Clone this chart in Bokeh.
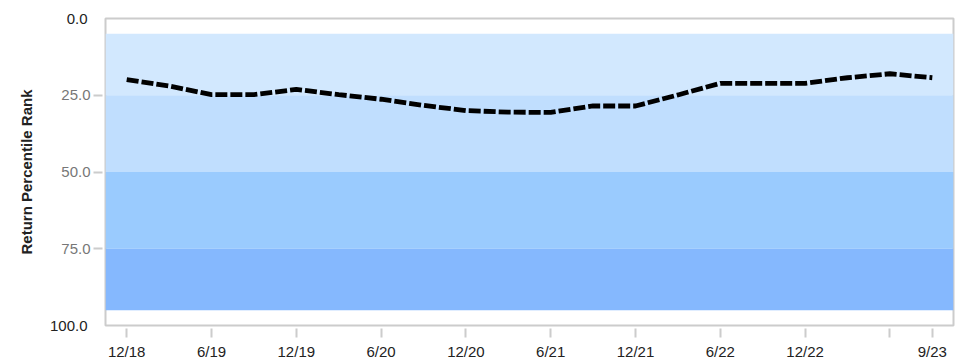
from bokeh.plotting import figure
from bokeh.models import (Range1d, FixedTicker, BoxAnnotation, LinearAxis,
                          NumeralTickFormatter)
from bokeh.embed import file_html
from bokeh.resources import INLINE

# ---- data -------------------------------------------------------------
quarters = ["12/18", "3/19", "6/19", "9/19", "12/19", "3/20", "6/20", "9/20",
            "12/20", "3/21", "6/21", "9/21", "12/21", "3/22", "6/22", "9/22",
            "12/22", "3/23", "6/23", "9/23"]
percentile_rank = [19.9, 22.0, 24.8, 24.8, 23.1, 24.8, 26.3, 28.3,
                   30.0, 30.5, 30.6, 28.5, 28.5, 24.9, 21.1, 21.1,
                   21.1, 19.3, 18.0, 19.3]

x_tick_quarters = ["12/18", "6/19", "12/19", "6/20", "12/20", "6/21",
                   "12/21", "6/22", "12/22", "6/23", "9/23"]
x_hidden_labels = ["6/23"]

y_ticks = [25, 50, 75]
y_edge_ticks = [0, 100]

band_bottoms = [5, 25, 50, 75]
band_tops = [25, 50, 75, 95]
band_colors = ["#d2e8fe", "#c0defe", "#9acbfe", "#85b8fe"]

FONT = "Liberation Sans"

# ---- figure -----------------------------------------------------------
x = list(range(len(quarters)))

p = figure(width=966, height=362, output_backend="svg", toolbar_location=None,
           x_range=Range1d(-0.5, len(quarters) - 0.5),
           y_range=Range1d(100, 0),
           min_border_left=105, min_border_right=13,
           min_border_top=18, min_border_bottom=34)

p.background_fill_color = "white"
p.border_fill_color = "white"
p.outline_line_color = "#cccccc"
p.outline_line_width = 2
p.grid.visible = False

for b, t, c in zip(band_bottoms, band_tops, band_colors):
    p.add_layout(BoxAnnotation(bottom=b, top=t, fill_color=c, fill_alpha=1.0,
                               line_color=None, level="underlay"))

p.line(x, percentile_rank, line_color="black", line_width=4.8,
       line_dash="12 3")

# x axis
xa = p.xaxis[0]
tick_pos = [quarters.index(q) for q in x_tick_quarters]
xa.ticker = FixedTicker(ticks=tick_pos)
xa.major_label_overrides = {quarters.index(q): ("" if q in x_hidden_labels else q)
                            for q in x_tick_quarters}
xa.axis_line_color = None
xa.major_tick_line_color = "#cccccc"
xa.major_tick_line_width = 2
xa.major_tick_in = -3
xa.major_tick_out = 12
xa.minor_tick_line_color = None
xa.major_label_standoff = 5
xa.major_label_text_font = FONT
xa.major_label_text_font_size = "15px"
xa.major_label_text_color = "#222222"

# y axis (inner: 25 / 50 / 75, grey, with ticks)
ya = p.yaxis[0]
ya.ticker = FixedTicker(ticks=y_ticks)
ya.formatter = NumeralTickFormatter(format="0.0")
ya.axis_line_color = None
ya.major_tick_line_color = "#cccccc"
ya.major_tick_line_width = 2
ya.major_tick_in = -3
ya.major_tick_out = 12
ya.minor_tick_line_color = None
ya.major_label_standoff = 3
ya.major_label_text_font = FONT
ya.major_label_text_font_size = "15px"
ya.major_label_text_color = "#777777"

# y axis (outer: 0 / 100, dark, no ticks, carries the title)
ya2 = LinearAxis(ticker=FixedTicker(ticks=y_edge_ticks),
                 formatter=NumeralTickFormatter(format="0.0"))
ya2.axis_line_color = None
ya2.major_tick_line_color = None
ya2.major_tick_in = 0
ya2.major_tick_out = 0
ya2.minor_tick_line_color = None
ya2.major_label_standoff = -29
ya2.major_label_text_font = FONT
ya2.major_label_text_font_size = "15px"
ya2.major_label_text_color = "#222222"
ya2.axis_label = "Return Percentile Rank"
ya2.axis_label_text_font = FONT
ya2.axis_label_text_font_style = "bold"
ya2.axis_label_text_font_size = "15px"
ya2.axis_label_text_color = "#222222"
ya2.axis_label_standoff = 12
p.add_layout(ya2, "left")

open("out.html", "w").write(file_html(p, INLINE))
